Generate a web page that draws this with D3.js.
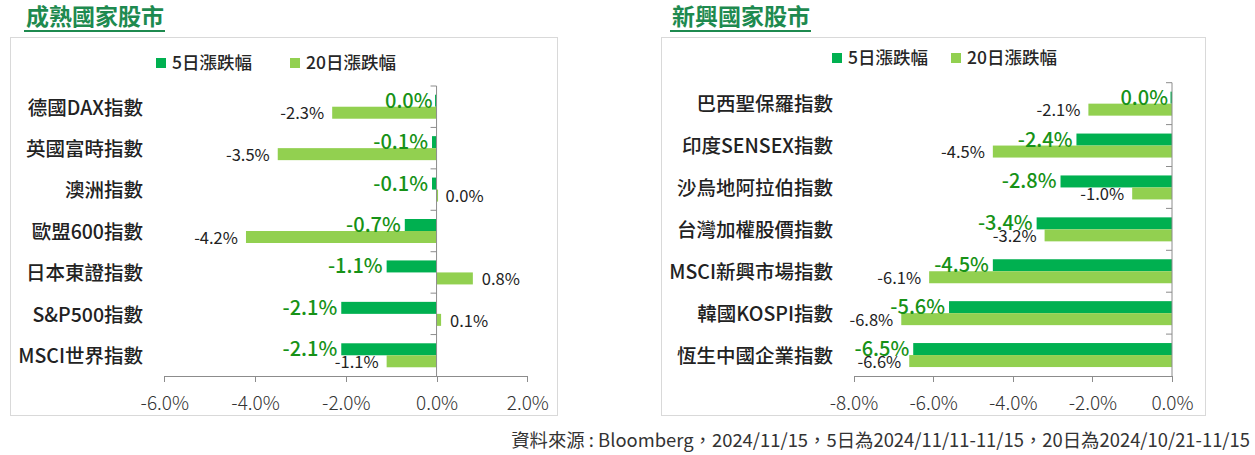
<!DOCTYPE html>
<meta charset="utf-8">
<style>
body {
  margin: 0;
  background: #fff;
  font-family: "Noto Sans CJK TC", "Noto Sans", sans-serif;
}
.axis path, .axis line {
  stroke: #8c8c8c;
  shape-rendering: crispEdges;
}
.axis text {
  font-size: 19px;
  fill: #333;
  font-family: "Noto Sans CJK TC", sans-serif;
}
</style>
<body>
<script src="https://cdn.jsdelivr.net/npm/d3@7"></script>
<script>

var width = 1255,
    height = 455;

// 成熟國家
var devCategories = ["德國DAX指數", "英國富時指數", "澳洲指數", "歐盟600指數", "日本東證指數", "S&P500指數", "MSCI世界指數"];
var dev5d = [0.0, -0.1, -0.1, -0.7, -1.1, -2.1, -2.1];
var dev20d = [-2.3, -3.5, 0.0, -4.2, 0.8, 0.1, -1.1];
var devTicks = [-6, -4, -2, 0, 2];

// 新興國家
var emCategories = ["巴西聖保羅指數", "印度SENSEX指數", "沙烏地阿拉伯指數", "台灣加權股價指數", "MSCI新興市場指數", "韓國KOSPI指數", "恆生中國企業指數"];
var em5d = [0.0, -2.4, -2.8, -3.4, -4.5, -5.6, -6.5];
var em20d = [-2.1, -4.5, -1.0, -3.2, -6.1, -6.8, -6.6];
var emTicks = [-8, -6, -4, -2, 0];

var seriesNames = ["5日漲跌幅", "20日漲跌幅"];
var footnote = "資料來源 : Bloomberg，2024/11/15，5日為2024/11/11-11/15，20日為2024/10/21-11/15";

var c5 = "#00b050",
    c20 = "#92d050",
    labelGreen = "#179217",
    titleGreen = "#1e8a4f";

var fmt = function(d) { return d.toFixed(1) + "%"; };

var svg = d3.select("body").append("svg")
    .attr("width", width)
    .attr("height", height);

function panel(opt) {
  var g = svg.append("g");

  // frame
  g.append("rect")
      .attr("x", opt.box[0] + 0.5)
      .attr("y", 37.5)
      .attr("width", opt.box[1] - opt.box[0])
      .attr("height", 378)
      .attr("fill", "none")
      .attr("stroke", "#d9d9d9");

  // title + underline
  var t = g.append("text")
      .attr("x", opt.titleX)
      .attr("y", 25)
      .attr("font-size", 23)
      .attr("font-weight", 700)
      .attr("fill", titleGreen)
      .text(opt.title);
  var tw = t.node().getComputedTextLength();
  g.append("line")
      .attr("x1", opt.titleX - 2).attr("x2", opt.titleX + tw + 1)
      .attr("y1", 31).attr("y2", 31)
      .attr("stroke", titleGreen)
      .attr("stroke-width", 2);

  // legend
  var lg = g.selectAll(".legend")
      .data(seriesNames)
    .enter().append("g")
      .attr("transform", function(d, i) { return "translate(" + opt.legendX[i] + "," + opt.legendY + ")"; });
  lg.append("rect")
      .attr("width", 10).attr("height", 10)
      .attr("y", -5)
      .attr("fill", function(d, i) { return i ? c20 : c5; });
  lg.append("text")
      .attr("x", 16)
      .attr("dy", "0.35em")
      .attr("font-size", 17.5)
      .attr("font-weight", 500)
      .attr("fill", "#262626")
      .text(function(d) { return d; });

  var x = d3.scaleLinear()
      .domain(opt.domain)
      .range(opt.xRange);

  var y = d3.scaleBand()
      .domain(opt.categories)
      .range([opt.top, 376]);

  var x0 = x(0),
      bh = Math.round(y.bandwidth() * 0.29);

  var rows = opt.categories.map(function(c, i) {
    return {name: c, v5: opt.v5[i], v20: opt.v20[i], cy: y(c) + y.bandwidth() / 2};
  });

  // bars
  g.selectAll(".b5")
      .data(rows)
    .enter().append("rect")
      .attr("x", function(d) { return Math.min(x(d.v5), x0 - 1.5); })
      .attr("y", function(d) { return d.cy - bh; })
      .attr("width", function(d) { return Math.max(Math.abs(x(d.v5) - x0), 1.5); })
      .attr("height", bh)
      .attr("fill", c5);

  g.selectAll(".b20")
      .data(rows)
    .enter().append("rect")
      .attr("x", function(d) { return Math.min(x(d.v20), x0); })
      .attr("y", function(d) { return d.cy; })
      .attr("width", function(d) { return Math.max(Math.abs(x(d.v20) - x0), 1.5); })
      .attr("height", bh)
      .attr("fill", c20);

  // x axis
  var xAxis = g.append("g")
      .attr("class", "axis")
      .attr("transform", "translate(0,376)")
      .call(d3.axisBottom(x).tickValues(opt.ticks).tickSize(6).tickFormat(fmt));
  xAxis.selectAll("text")
      .attr("y", 27)
      .attr("dy", "0.35em")
      .attr("font-weight", 300);

  // category axis at zero
  var edges = d3.range(opt.categories.length).map(function(i) { return y.range()[0] + i * y.step(); });
  g.append("line")
      .attr("x1", x0).attr("x2", x0)
      .attr("y1", opt.top).attr("y2", 376)
      .attr("stroke", "#8c8c8c");
  g.selectAll(".ytick")
      .data(edges)
    .enter().append("line")
      .attr("x1", x0 - 6).attr("x2", x0)
      .attr("y1", function(d) { return d; })
      .attr("y2", function(d) { return d; })
      .attr("stroke", "#8c8c8c");

  // category labels
  g.selectAll(".cat")
      .data(rows)
    .enter().append("text")
      .attr("x", opt.labelX)
      .attr("y", function(d) { return d.cy + 1; })
      .attr("dy", "0.35em")
      .attr("text-anchor", "end")
      .attr("font-size", 19.5)
      .attr("font-weight", 500)
      .attr("fill", "#222")
      .text(function(d) { return d.name; });

  // value labels
  g.selectAll(".l20")
      .data(rows)
    .enter().append("text")
      .attr("x", function(d) { return d.v20 > 0 || (d.v20 === 0 && opt.zeroRight) ? x(d.v20) + 9 : x(d.v20) - 8; })
      .attr("y", function(d) { return d.cy + bh / 2 + 1; })
      .attr("dy", "0.35em")
      .attr("text-anchor", function(d) { return d.v20 > 0 || (d.v20 === 0 && opt.zeroRight) ? "start" : "end"; })
      .attr("font-size", 16.5)
      .attr("font-weight", 400)
      .attr("fill", "#222")
      .text(function(d) { return fmt(d.v20); });

  g.selectAll(".l5")
      .data(rows)
    .enter().append("text")
      .attr("x", function(d) { return Math.min(x(d.v5), x0) - 4; })
      .attr("y", function(d) { return d.cy - bh / 2; })
      .attr("dy", "0.35em")
      .attr("text-anchor", "end")
      .attr("font-size", 20)
      .attr("font-weight", 500)
      .attr("fill", labelGreen)
      .text(function(d) { return fmt(d.v5); });
}

panel({
  title: "成熟國家股市",
  titleX: 26,
  box: [10, 557],
  legendX: [156, 290],
  legendY: 63,
  categories: devCategories,
  v5: dev5d,
  v20: dev20d,
  ticks: devTicks,
  domain: [-6, 2],
  xRange: [164.3, 527.3],
  top: 86,
  labelX: 143,
  zeroRight: true
});

panel({
  title: "新興國家股市",
  titleX: 672,
  box: [661, 1205],
  legendX: [832, 951],
  legendY: 58,
  categories: emCategories,
  v5: em5d,
  v20: em20d,
  ticks: emTicks,
  domain: [-8, 0],
  xRange: [853.5, 1172],
  top: 82.7,
  labelX: 833,
  zeroRight: false
});

svg.append("text")
    .attr("x", 1250)
    .attr("y", 441)
    .attr("dy", "0.35em")
    .attr("text-anchor", "end")
    .attr("font-size", 18.4)
    .attr("fill", "#333")
    .text(footnote);

</script>
